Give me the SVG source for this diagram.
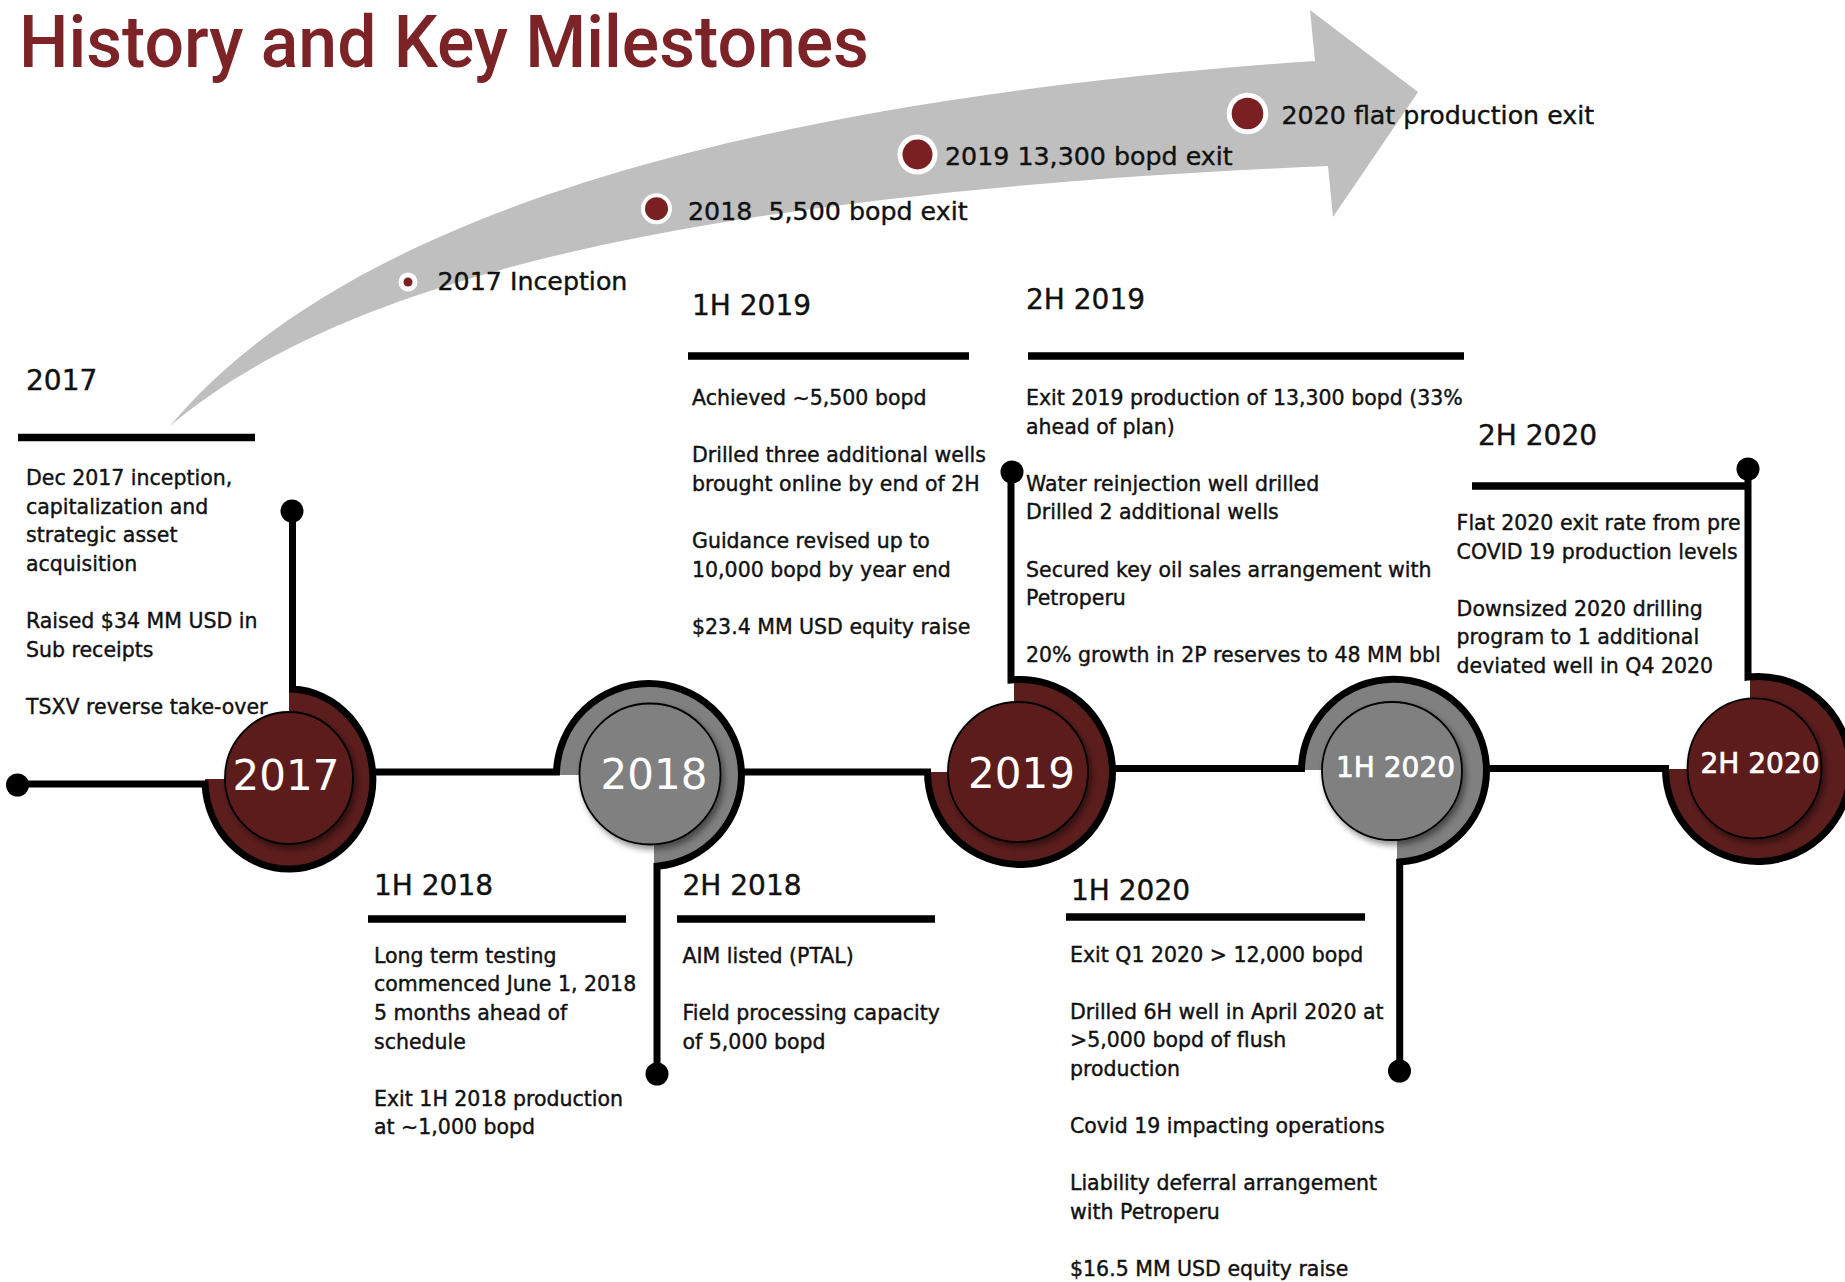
<svg xmlns="http://www.w3.org/2000/svg" width="1845" height="1282" viewBox="0 0 1845 1282">
  <defs>
    <style>
      .t { font-family: "DejaVu Sans", "Noto Sans", sans-serif; fill: #111; stroke: #111; stroke-width: 0.4; }
      .body { font-size: 20.5px; }
      .hd { font-size: 28px; }
      .ms { font-size: 25.3px; }
      .yr { font-family: "DejaVu Sans", "Noto Sans", sans-serif; font-size: 42px; fill: #fff; text-anchor: middle; }
      .yh { font-family: "DejaVu Sans", "Noto Sans", sans-serif; font-size: 28px; fill: #fff; stroke: #fff; stroke-width: 0.7; text-anchor: middle; }
      .title { font-family: Roboto, "Liberation Sans", sans-serif; font-weight: 500; font-size: 73px; fill: #7b2327; }
      .rule { stroke: #000; stroke-width: 7.5; }
      .conn { fill: none; stroke: #000; stroke-width: 7; stroke-linejoin: miter; }
      .end { fill: #000; }
      .red { fill: #5c1d1d; }
      .grey { fill: #808080; }
      .inner { stroke: #000; stroke-width: 1.8; filter: url(#shadow); }
      .ring { fill: #fff; }
      .dot { fill: #7b2022; }
    </style>
    <filter id="shadow" x="-25%" y="-25%" width="160%" height="160%">
      <feDropShadow dx="3" dy="4" stdDeviation="3" flood-color="#000" flood-opacity="0.45"/>
    </filter>
  </defs>

  <rect width="1845" height="1282" fill="#fff"/>

  <!-- heading -->
  <text class="title" x="19" y="67" textLength="850" lengthAdjust="spacingAndGlyphs">History and Key Milestones</text>

  <!-- growth arrow with production milestones -->
  <g id="growth-arrow">
    <path fill="#bfbfbf" d="M170 426 C300 270 600 110 1315 61 L1310 10 L1418 92 L1333 217 L1328 166 C650 195 330 290 170 426 Z"/>
    <circle class="ring" cx="408" cy="282" r="9.5"/>
    <circle class="dot" cx="408" cy="282" r="4.5"/>
    <text class="t ms" x="437.5" y="290">2017 Inception</text>
    <circle class="ring" cx="656.5" cy="208.7" r="15.5"/>
    <circle class="dot" cx="656.5" cy="208.7" r="11.5"/>
    <text class="t ms" x="688" y="220" xml:space="preserve">2018  5,500 bopd exit</text>
    <circle class="ring" cx="917.5" cy="154.5" r="20"/>
    <circle class="dot" cx="917.5" cy="154.5" r="15"/>
    <text class="t ms" x="945" y="165">2019 13,300 bopd exit</text>
    <circle class="ring" cx="1247.5" cy="113.5" r="20.8"/>
    <circle class="dot" cx="1247.5" cy="113.5" r="15.8"/>
    <text class="t ms" x="1281.5" y="124">2020 flat production exit</text>
  </g>

  <!-- timeline nodes -->
  <g id="node-2017">
    <path class="red" d="M289 779 H205 A84 90 0 1 0 289 689 Z"/>
    <ellipse class="red inner" cx="289" cy="778" rx="64" ry="66"/>
    <text class="yr" x="286" y="790">2017</text>
  </g>
  <g id="node-2018">
    <path class="grey" d="M654 775 H556.5 A92.5 91.5 0 1 1 654 866.4 Z"/>
    <circle class="grey inner" cx="650" cy="774" r="70.5"/>
    <text class="yr" x="654" y="788.5">2018</text>
  </g>
  <g id="node-2019">
    <path class="red" d="M1014 772 H927.5 A92.5 92.5 0 1 0 1014 679.7 Z"/>
    <circle class="red inner" cx="1018" cy="772" r="70"/>
    <text class="yr" x="1021.5" y="788">2019</text>
  </g>
  <g id="node-1h2020">
    <path class="grey" d="M1397 770 H1301.5 A92.5 91.5 0 1 1 1397 861.5 Z"/>
    <ellipse class="grey inner" cx="1392" cy="771" rx="70" ry="69"/>
    <text class="yh" x="1395.5" y="776.7">1H 2020</text>
  </g>
  <g id="node-2h2020">
    <path class="red" d="M1750 769 H1665.5 A92.5 92.5 0 1 0 1750 676.8 Z"/>
    <ellipse class="red inner" cx="1754.5" cy="768.3" rx="67" ry="70"/>
    <text class="yh" x="1760" y="773.3">2H 2020</text>
  </g>

  <!-- timeline line, node rims and leader lines -->
  <g id="connectors">
    <path class="conn" d="M17 784 H205 A84 90 0 1 0 292.5 689.1 V511"/>
    <path class="conn" d="M373 772 H556.5 A92.5 91.5 0 1 1 657 866.2 V1074"/>
    <path class="conn" d="M741.5 772 H927.5 A92.5 92.5 0 1 0 1011 679.9 V472"/>
    <path class="conn" d="M1112.5 768.5 H1301.5 A92.5 91.5 0 1 1 1399.7 862 V1071"/>
    <path class="conn" d="M1486.5 768.5 H1665.5 A92.5 92.5 0 1 0 1748 677 V469"/>
    <circle class="end" cx="17.5" cy="785" r="11.5"/>
    <circle class="end" cx="292" cy="511" r="11.5"/>
    <circle class="end" cx="657" cy="1074" r="11.5"/>
    <circle class="end" cx="1012" cy="472" r="11.5"/>
    <circle class="end" cx="1399.5" cy="1071" r="11.5"/>
    <circle class="end" cx="1748" cy="469" r="11.5"/>
  </g>

  <!-- period notes -->
  <g id="note-2017">
    <text class="t hd" x="26" y="390">2017</text>
    <line class="rule" x1="18" y1="437.5" x2="255" y2="437.5"/>
    <text class="t body">
      <tspan x="26" y="485">Dec 2017 inception,</tspan>
      <tspan x="26" y="513.65">capitalization and</tspan>
      <tspan x="26" y="542.3">strategic asset</tspan>
      <tspan x="26" y="570.95">acquisition</tspan>
      <tspan x="26" y="628.25">Raised $34 MM USD in</tspan>
      <tspan x="26" y="656.9">Sub receipts</tspan>
      <tspan x="26" y="714.2">TSXV reverse take-over</tspan>
    </text>
  </g>

  <g id="note-1h2018">
    <text class="t hd" x="374" y="895">1H 2018</text>
    <line class="rule" x1="368" y1="919" x2="626" y2="919"/>
    <text class="t body">
      <tspan x="374" y="962.7">Long term testing</tspan>
      <tspan x="374" y="991.3">commenced June 1, 2018</tspan>
      <tspan x="374" y="1019.9">5 months ahead of</tspan>
      <tspan x="374" y="1048.5">schedule</tspan>
      <tspan x="374" y="1105.7">Exit 1H 2018 production</tspan>
      <tspan x="374" y="1134.3">at ~1,000 bopd</tspan>
    </text>
  </g>

  <g id="note-2h2018">
    <text class="t hd" x="682.5" y="895">2H 2018</text>
    <line class="rule" x1="677" y1="919" x2="935" y2="919"/>
    <text class="t body">
      <tspan x="682.5" y="962.7">AIM listed (PTAL)</tspan>
      <tspan x="682.5" y="1020">Field processing capacity</tspan>
      <tspan x="682.5" y="1048.6">of 5,000 bopd</tspan>
    </text>
  </g>

  <g id="note-1h2019">
    <text class="t hd" x="692" y="315">1H 2019</text>
    <line class="rule" x1="688" y1="356" x2="969" y2="356"/>
    <text class="t body">
      <tspan x="692" y="405">Achieved ~5,500 bopd</tspan>
      <tspan x="692" y="462.2">Drilled three additional wells</tspan>
      <tspan x="692" y="490.8">brought online by end of 2H</tspan>
      <tspan x="692" y="548">Guidance revised up to</tspan>
      <tspan x="692" y="576.6">10,000 bopd by year end</tspan>
      <tspan x="692" y="633.8">$23.4 MM USD equity raise</tspan>
    </text>
  </g>

  <g id="note-2h2019">
    <text class="t hd" x="1026" y="308.5">2H 2019</text>
    <line class="rule" x1="1028" y1="356" x2="1464" y2="356"/>
    <text class="t body">
      <tspan x="1026" y="405">Exit 2019 production of 13,300 bopd (33%</tspan>
      <tspan x="1026" y="433.6">ahead of plan)</tspan>
      <tspan x="1026" y="490.8">Water reinjection well drilled</tspan>
      <tspan x="1026" y="519.4">Drilled 2 additional wells</tspan>
      <tspan x="1026" y="576.6">Secured key oil sales arrangement with</tspan>
      <tspan x="1026" y="605.2">Petroperu</tspan>
      <tspan x="1026" y="662.4">20% growth in 2P reserves to 48 MM bbl</tspan>
    </text>
  </g>

  <g id="note-1h2020">
    <text class="t hd" x="1071" y="900">1H 2020</text>
    <line class="rule" x1="1066" y1="917" x2="1365" y2="917"/>
    <text class="t body">
      <tspan x="1070" y="961.5">Exit Q1 2020 &gt; 12,000 bopd</tspan>
      <tspan x="1070" y="1018.7">Drilled 6H well in April 2020 at</tspan>
      <tspan x="1070" y="1047.3">&gt;5,000 bopd of flush</tspan>
      <tspan x="1070" y="1075.9">production</tspan>
      <tspan x="1070" y="1133.1">Covid 19 impacting operations</tspan>
      <tspan x="1070" y="1190.3">Liability deferral arrangement</tspan>
      <tspan x="1070" y="1218.9">with Petroperu</tspan>
      <tspan x="1070" y="1276.1">$16.5 MM USD equity raise</tspan>
    </text>
  </g>

  <g id="note-2h2020">
    <text class="t hd" x="1478" y="444.5">2H 2020</text>
    <line class="rule" x1="1472" y1="486" x2="1748" y2="486"/>
    <text class="t body">
      <tspan x="1456.6" y="530">Flat 2020 exit rate from pre</tspan>
      <tspan x="1456.6" y="558.6">COVID 19 production levels</tspan>
      <tspan x="1456.6" y="615.8">Downsized 2020 drilling</tspan>
      <tspan x="1456.6" y="644.4">program to 1 additional</tspan>
      <tspan x="1456.6" y="673">deviated well in Q4 2020</tspan>
    </text>
  </g>
</svg>
